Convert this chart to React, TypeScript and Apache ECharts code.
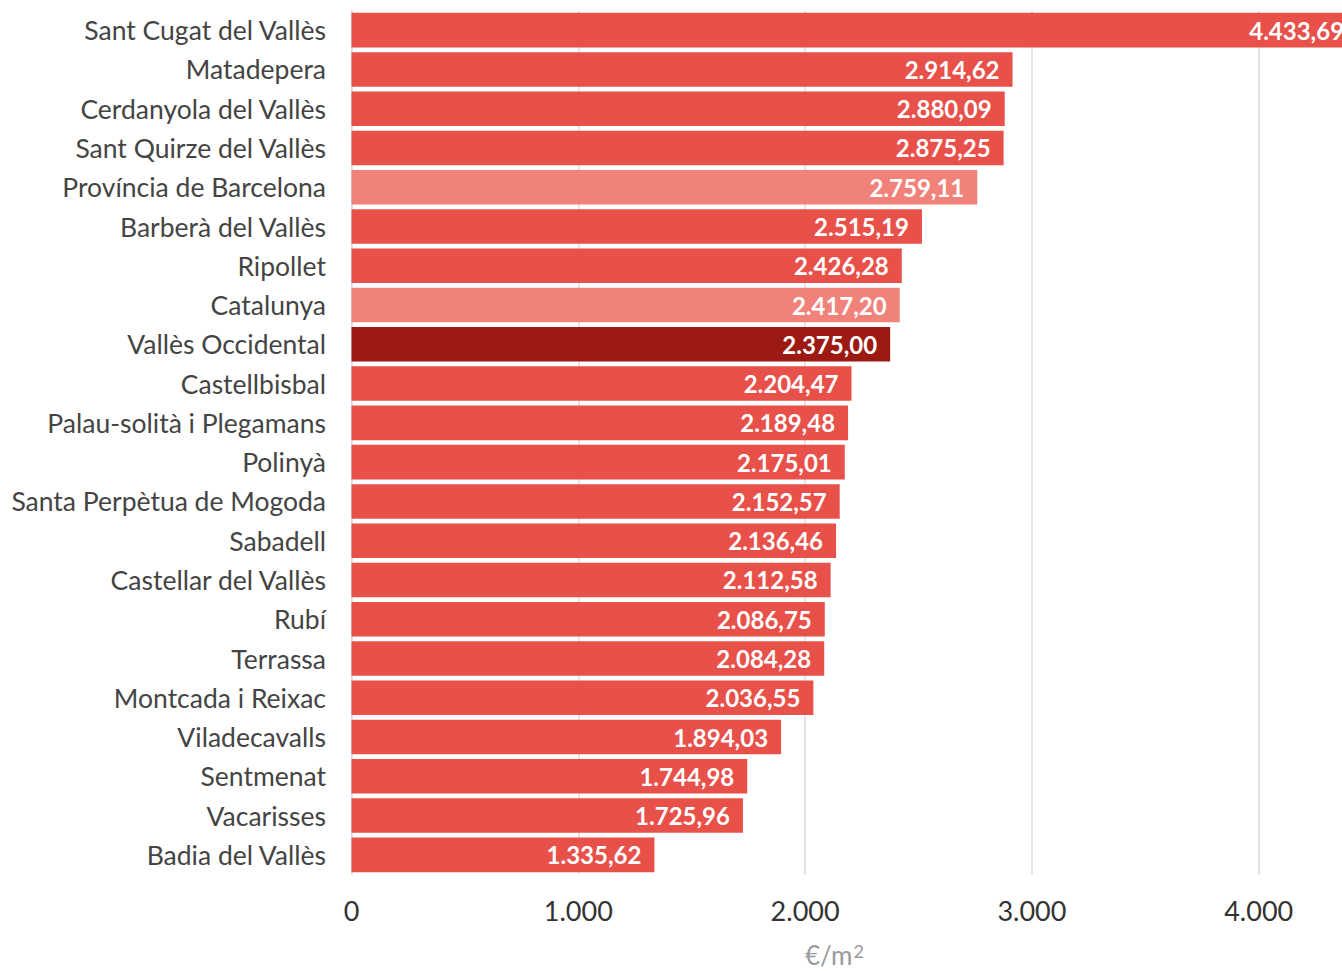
import React, { useEffect, useRef } from "react";
import * as echarts from "echarts";

const categories = [
  "Sant Cugat del Vallès",
  "Matadepera",
  "Cerdanyola del Vallès",
  "Sant Quirze del Vallès",
  "Província de Barcelona",
  "Barberà del Vallès",
  "Ripollet",
  "Catalunya",
  "Vallès Occidental",
  "Castellbisbal",
  "Palau-solità i Plegamans",
  "Polinyà",
  "Santa Perpètua de Mogoda",
  "Sabadell",
  "Castellar del Vallès",
  "Rubí",
  "Terrassa",
  "Montcada i Reixac",
  "Viladecavalls",
  "Sentmenat",
  "Vacarisses",
  "Badia del Vallès",
];

const values = [
  4433.69, 2914.62, 2880.09, 2875.25, 2759.11, 2515.19, 2426.28, 2417.2,
  2375.0, 2204.47, 2189.48, 2175.01, 2152.57, 2136.46, 2112.58, 2086.75,
  2084.28, 2036.55, 1894.03, 1744.98, 1725.96, 1335.62,
];

const tickValues = [0, 1000, 2000, 3000, 4000];
const unitBase = "€/m";
const unitSup = "2";

const COLOR_MAIN = "#E8504A";
const COLOR_LIGHT = "#F0827A";
const COLOR_DARK = "#9C1A12";
const lightCats = ["Província de Barcelona", "Catalunya"];
const darkCats = ["Vallès Occidental"];

function fmt(v: number, dec: number): string {
  const fixed = v.toFixed(dec);
  const [intPart, decPart] = fixed.split(".");
  const withDots = intPart.replace(/\B(?=(\d{3})+(?!\d))/g, ".");
  return decPart ? withDots + "," + decPart : withDots;
}

const CHART_W = 1400;
const X0 = 351.5;
const PX_PER_1000 = 226.8;

export default function App() {
  const ref = useRef<HTMLDivElement>(null);
  useEffect(() => {
    if (!ref.current) return;
    const chart = echarts.init(ref.current, undefined, { renderer: "svg" });
    const FONT = "Lato";
    chart.setOption({
      animation: false,
      backgroundColor: "#ffffff",
      grid: {
        left: X0,
        right: CHART_W - (X0 + 4.5 * PX_PER_1000),
        top: 10.5,
        bottom: 96.5,
        containLabel: false,
      },
      xAxis: {
        type: "value",
        min: 0,
        max: 4500,
        interval: 1000,
        axisLine: { show: false },
        axisTick: { show: false },
        splitLine: { show: true, lineStyle: { color: "#dddddd", width: 1.5 } },
        axisLabel: {
          margin: 22,
          color: "#333333",
          fontFamily: FONT,
          fontSize: 27,
          formatter: (v: number) => (tickValues.includes(v) ? fmt(v, 0) : ""),
        },
      },
      yAxis: {
        type: "category",
        inverse: true,
        data: categories,
        axisLine: { show: true, lineStyle: { color: "#dddddd", width: 1.5 } },
        axisTick: { show: false },
        axisLabel: {
          margin: 25.5,
          color: "#444444",
          fontFamily: FONT,
          fontSize: 26.5,
        },
      },
      series: [
        {
          type: "bar",
          barCategoryGap: "12%",
          data: values.map((v, i) => ({
            value: v,
            itemStyle: {
              color: lightCats.includes(categories[i])
                ? COLOR_LIGHT
                : darkCats.includes(categories[i])
                ? COLOR_DARK
                : COLOR_MAIN,
            },
          })),
          label: {
            show: true,
            position: "insideRight",
            distance: 13,
            color: "#ffffff",
            fontFamily: FONT,
            fontWeight: "bold",
            fontSize: 24,
            formatter: (p: any) => fmt(p.value, 2),
          },
        },
      ],
      graphic: [
        {
          type: "text",
          left: 805,
          top: 942,
          style: {
            text: "{b|" + unitBase + "}{s|" + unitSup + "}",
            rich: {
              b: { fill: "#9a9a9a", fontFamily: FONT, fontSize: 26, lineHeight: 26 },
              s: {
                fill: "#9a9a9a",
                fontFamily: FONT,
                fontSize: 18,
                lineHeight: 18,
                verticalAlign: "top",
                padding: [0, 0, 8, 1],
              },
            },
          },
        },
      ],
    });
    return () => chart.dispose();
  }, []);
  return (
    <div
      style={{
        position: "absolute",
        left: 0,
        top: 0,
        width: 1342,
        height: 971,
        overflow: "hidden",
      }}
    >
      <div ref={ref} style={{ width: CHART_W, height: 971 }} />
    </div>
  );
}
